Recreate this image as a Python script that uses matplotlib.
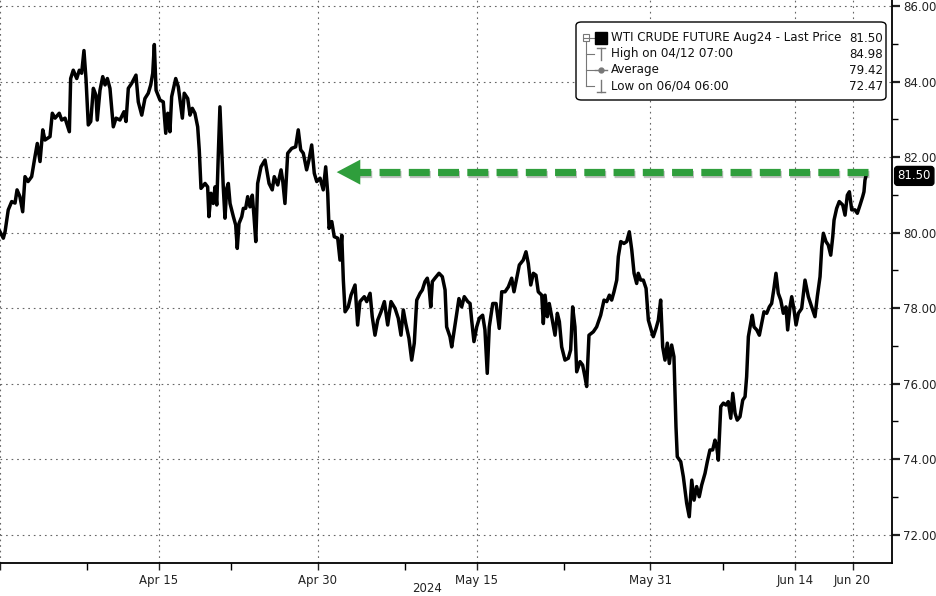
import numpy as np
import matplotlib.pyplot as plt
import matplotlib.patheffects as pe
from matplotlib.patches import FancyBboxPatch, Rectangle
from matplotlib.lines import Line2D

plt.rcParams['font.family'] = ['DejaVu Sans']

# time axis counted in trading days from this date (weekends removed)
start_date = '2024-03-29'

t_days = [
    0.00, 0.23, 0.35, 0.57, 0.81, 1.04, 1.18, 1.38, 1.57, 1.73,
    1.94, 2.19, 2.42, 2.58, 2.77, 2.96, 3.11, 3.46, 3.62, 3.81,
    4.10, 4.27, 4.50, 4.80, 4.89, 5.07, 5.31, 5.49, 5.65, 5.81,
    5.95, 6.11, 6.28, 6.46, 6.64, 6.73, 6.92, 7.11, 7.27, 7.43,
    7.61, 7.84, 8.03, 8.30, 8.58, 8.72, 8.88, 9.11, 9.41, 9.57,
    9.81, 10.03, 10.26, 10.43, 10.57, 10.68, 10.80, 11.07, 11.30, 11.47,
    11.61, 11.76, 11.88, 12.16, 12.34, 12.62, 12.75, 12.99, 13.15, 13.31,
    13.49, 13.68, 13.79, 13.91, 14.19, 14.37, 14.46, 14.60, 14.76, 14.88,
    15.00, 15.11, 15.22, 15.34, 15.45, 15.57, 15.69, 15.80, 15.92, 16.15,
    16.31, 16.42, 16.54, 16.73, 16.84, 17.00, 17.14, 17.30, 17.46, 17.58,
    17.70, 17.83, 18.06, 18.34, 18.46, 18.62, 18.84, 18.98, 19.22, 19.45,
    19.56, 19.72, 19.91, 20.19, 20.46, 20.64, 20.81, 20.99, 21.22, 21.38,
    21.57, 21.75, 21.92, 22.15, 22.37, 22.54, 22.68, 22.77, 22.96, 23.13,
    23.37, 23.53, 23.65, 23.76, 23.88, 24.10, 24.29, 24.57, 24.75, 24.91,
    25.21, 25.38, 25.61, 25.76, 25.95, 26.14, 26.37, 26.60, 26.83, 27.06,
    27.34, 27.56, 27.75, 27.91, 28.08, 28.30, 28.49, 28.67, 28.84, 29.07,
    29.23, 29.41, 29.57, 29.69, 29.81, 29.92, 30.10, 30.38, 30.61, 30.80,
    30.91, 31.14, 31.26, 31.44, 31.61, 31.76, 31.95, 32.13, 32.37, 32.53,
    32.64, 32.80, 32.99, 33.17, 33.40, 33.56, 33.72, 33.86, 34.10, 34.33,
    34.55, 34.72, 34.95, 35.18, 35.41, 35.57, 35.76, 35.94, 36.21, 36.40,
    36.56, 36.73, 36.91, 37.09, 37.25, 37.49, 37.60, 37.72, 37.88, 38.01,
    38.18, 38.41, 38.57, 38.71, 38.87, 39.10, 39.33, 39.49, 39.63, 39.79,
    39.91, 40.14, 40.32, 40.48, 40.60, 40.76, 41.06, 41.29, 41.57, 41.80,
    41.99, 42.17, 42.33, 42.49, 42.68, 42.79, 42.96, 43.18, 43.37, 43.55,
    43.72, 43.88, 44.06, 44.17, 44.34, 44.52, 44.71, 44.87, 45.10, 45.21,
    45.40, 45.56, 45.72, 45.86, 46.02, 46.18, 46.32, 46.48, 46.64, 46.78,
    46.87, 47.11, 47.29, 47.52, 47.70, 47.87, 48.03, 48.21, 48.39, 48.56,
    48.79, 48.95, 49.13, 49.32, 49.48, 49.60, 49.71, 49.88, 50.06, 50.24,
    50.40, 50.57, 50.71, 50.87, 51.02, 51.21, 51.40, 51.56, 51.67, 51.79,
    51.95, 52.06, 52.18, 52.37, 52.55, 52.71, 52.87, 53.06, 53.24, 53.40,
    53.56, 53.70, 53.86, 54.03, 54.21, 54.39, 54.51, 54.67, 54.79, 54.95,
    55.09, 55.25, 55.48, 55.71, 55.94, 56.17, 56.40, 56.56, 56.75, 56.87,
    56.98, 57.16, 57.32, 57.49, 57.63, 57.72, 57.90, 58.08, 58.32, 58.48,
    58.64, 58.78, 58.94, 59.17, 59.33, 59.52, 59.70, 59.79, 59.86, 59.93,
]

prices = [
    80.02, 79.85, 80.02, 80.60, 80.82, 80.78, 81.13, 80.95, 80.55, 81.48,
    81.35, 81.48, 82.01, 82.36, 81.88, 82.72, 82.45, 82.54, 83.16, 83.03,
    83.16, 82.98, 83.03, 82.67, 84.08, 84.30, 84.08, 84.30, 84.22, 84.82,
    84.08, 82.85, 82.94, 83.82, 83.64, 82.98, 83.77, 84.13, 83.91, 84.08,
    83.82, 82.80, 83.03, 82.98, 83.20, 82.94, 83.82, 83.95, 84.17, 83.46,
    83.11, 83.55, 83.69, 83.91, 84.22, 84.98, 83.77, 83.51, 83.46, 82.63,
    83.16, 82.67, 83.60, 84.08, 83.86, 83.03, 83.69, 83.55, 83.11, 83.29,
    83.16, 82.80, 82.19, 81.17, 81.30, 81.21, 80.42, 81.04, 80.77, 81.21,
    80.73, 82.10, 83.33, 82.19, 81.21, 80.38, 81.17, 81.30, 80.77, 80.42,
    80.20, 79.58, 80.24, 80.42, 80.64, 80.64, 80.95, 80.68, 80.99, 80.42,
    79.76, 81.30, 81.74, 81.92, 81.66, 81.30, 81.13, 81.48, 81.26, 81.66,
    81.39, 80.77, 82.10, 82.23, 82.27, 82.72, 82.19, 82.10, 81.66, 81.92,
    82.32, 81.57, 81.35, 81.44, 81.13, 81.74, 81.04, 80.11, 80.29, 79.89,
    79.85, 79.27, 79.93, 78.74, 77.90, 78.03, 78.34, 78.61, 77.55, 78.17,
    78.30, 78.17, 78.39, 77.77, 77.28, 77.68, 77.90, 78.17, 77.55, 78.17,
    77.99, 77.73, 77.28, 77.95, 77.59, 77.20, 76.62, 77.07, 78.21, 78.39,
    78.48, 78.70, 78.79, 78.56, 78.03, 78.70, 78.79, 78.92, 78.83, 78.48,
    77.50, 77.24, 76.97, 77.42, 77.86, 78.25, 78.03, 78.30, 78.17, 78.12,
    77.68, 77.11, 77.50, 77.73, 77.81, 77.42, 76.27, 77.50, 78.12, 78.12,
    77.46, 78.43, 78.43, 78.56, 78.79, 78.43, 78.79, 79.14, 79.27, 79.49,
    79.18, 78.61, 78.92, 78.87, 78.43, 78.34, 77.59, 78.34, 77.77, 78.12,
    77.77, 77.28, 77.86, 77.64, 76.97, 76.62, 76.67, 76.89, 78.03, 77.50,
    76.31, 76.58, 76.49, 76.18, 75.92, 77.28, 77.37, 77.50, 77.81, 78.21,
    78.17, 78.34, 78.21, 78.43, 78.74, 79.36, 79.76, 79.71, 79.76, 80.02,
    79.54, 78.92, 78.65, 78.92, 78.74, 78.74, 78.52, 77.68, 77.37, 77.24,
    77.46, 77.68, 78.21, 76.97, 76.62, 77.07, 76.53, 77.02, 76.71, 74.86,
    74.06, 73.93, 73.53, 72.83, 72.47, 73.44, 72.91, 73.27, 73.00, 73.31,
    73.62, 73.93, 74.24, 74.24, 74.50, 74.33, 73.97, 75.39, 75.48, 75.43,
    75.52, 75.08, 75.74, 75.21, 75.03, 75.12, 75.56, 75.65, 76.18, 77.24,
    77.59, 77.81, 77.50, 77.42, 77.28, 77.59, 77.90, 77.86, 78.03, 78.12,
    78.52, 78.92, 78.39, 78.21, 77.86, 78.03, 77.42, 78.03, 78.30, 77.95,
    77.55, 77.86, 77.99, 78.74, 78.30, 78.03, 77.77, 78.30, 78.83, 79.62,
    79.98, 79.76, 79.67, 79.40, 79.89, 80.33, 80.64, 80.82, 80.73, 80.46,
    80.99, 81.08, 80.60, 80.60, 80.51, 80.73, 80.95, 81.08, 81.39, 81.50,
]
assert len(t_days) == len(prices)

tick_dates = ['2024-03-29', '2024-04-15', '2024-04-30', '2024-05-15',
              '2024-05-31', '2024-06-14', '2024-06-20']
tick_labels = ['', 'Apr 15', 'Apr 30', 'May 15', 'May 31', 'Jun 14', 'Jun 20']
minor_dates = ['2024-04-08', '2024-04-22', '2024-05-08', '2024-05-23', '2024-06-07']
year_label = '2024'

legend_labels = ['WTI CRUDE FUTURE Aug24 - Last Price', 'High on 04/12 07:00',
                 'Average', 'Low on 06/04 06:00']
legend_values = [81.50, 84.98, 79.42, 72.47]
last_price = 81.50
arrow_level = 81.6

GREEN = '#2f9e3c'

def bday(d):
    return np.busday_count(start_date, d)

fig = plt.figure(figsize=(9.36, 5.96), dpi=100)
ax = fig.add_axes([0, 33 / 596, 892 / 936, 563 / 596])

ax.plot(t_days, prices, color='black', lw=2.5, solid_joinstyle='round')

ax.set_xlim(0, 61.73)
ax.set_ylim(71.245, 86.16)

ax.set_xticks([bday(d) for d in tick_dates])
ax.set_xticklabels(tick_labels)
ax.set_xticks([bday(d) for d in minor_dates], minor=True)
ax.yaxis.tick_right()
ax.set_yticks(np.arange(72, 87, 2))
ax.set_yticklabels([f'{v:.2f}' for v in np.arange(72, 87, 2)])
ax.set_yticks(np.arange(73, 86, 2), minor=True)

ax.grid(True, which='major', color='#666666', lw=0.8, ls=(0, (1.5, 3.5)))
for s in ['left', 'top']:
    ax.spines[s].set_visible(False)
for s in ['right', 'bottom']:
    ax.spines[s].set_linewidth(1.3)
ax.tick_params(axis='y', which='major', length=6, width=1.6, labelsize=8.5, pad=2, colors='#222222')
ax.tick_params(axis='y', which='minor', length=4, width=1.0)
ax.tick_params(axis='x', which='major', length=5, width=1.0, labelsize=8.5, pad=3, colors='#222222')
ax.tick_params(axis='x', which='minor', length=5, width=1.0)

fig.text(427 / 936, 1 - 588 / 596, year_label, ha='center', va='center', fontsize=8.5, color='#222222')

# green dashed arrow back to the Apr 30 level
shadow = [pe.SimpleLineShadow(offset=(1, -1.5), alpha=0.25), pe.Normal()]
ax.plot([60.05, 24.5], [arrow_level, arrow_level], color=GREEN, lw=5.2,
        dashes=(2.9, 1.15), path_effects=shadow)
ax.annotate('', xy=(23.3, arrow_level), xytext=(24.9, arrow_level),
            arrowprops=dict(arrowstyle='-|>,head_length=0.85,head_width=0.45',
                            mutation_scale=20, color=GREEN, lw=0,
                            shrinkA=0, shrinkB=0))

# last price tag on the axis
ax.annotate(f'{last_price:.2f}', xy=(1.0, last_price), xycoords=ax.get_yaxis_transform(),
            xytext=(4, 0), textcoords='offset points', ha='left', va='center',
            color='white', fontsize=8.5, annotation_clip=False,
            bbox=dict(boxstyle='round,pad=0.25', fc='black', ec='black'))

# legend box
def fx(px):
    return px / 936

def fy(py):
    return 1 - py / 596

tf = fig.transFigure
fig.add_artist(FancyBboxPatch((fx(576), fy(100)), 310 / 936, 78 / 596,
                              boxstyle='round,pad=0,rounding_size=0.006',
                              transform=tf, fc='white', ec='black', lw=1.0, zorder=4))
gray = '#777777'
# tree connector
fig.add_artist(Line2D([fx(586)] * 2, [fy(41), fy(86)], transform=tf, color=gray, lw=0.8, zorder=5))
for yy in [54, 70, 86]:
    fig.add_artist(Line2D([fx(586), fx(594)], [fy(yy)] * 2, transform=tf, color=gray, lw=0.8, zorder=5))
fig.add_artist(Rectangle((fx(583), fy(40.5)), 6 / 936, 6 / 596, transform=tf,
                         fc='white', ec=gray, lw=0.8, zorder=6))
fig.add_artist(Line2D([fx(584), fx(588)], [fy(37.5)] * 2, transform=tf, color=gray, lw=0.8, zorder=6))
fig.add_artist(Line2D([fx(589), fx(594)], [fy(37.5)] * 2, transform=tf, color=gray, lw=0.8, zorder=6))
fig.add_artist(Rectangle((fx(595), fy(44)), 12 / 936, 12 / 596, transform=tf,
                         fc='black', ec='black', zorder=6))
fig.add_artist(Line2D([fx(601)] * 2, [fy(48), fy(60)], transform=tf, color=gray, lw=1.0, zorder=6))
fig.add_artist(Line2D([fx(597), fx(605)], [fy(48)] * 2, transform=tf, color=gray, lw=1.0, zorder=6))
fig.add_artist(Line2D([fx(595), fx(607)], [fy(70)] * 2, transform=tf, color=gray, lw=1.0, zorder=6))
fig.add_artist(Line2D([fx(601)], [fy(70)], transform=tf, color=gray, marker='o', markersize=3.5,
                      zorder=6))
fig.add_artist(Line2D([fx(601)] * 2, [fy(80), fy(92)], transform=tf, color=gray, lw=1.0, zorder=6))
fig.add_artist(Line2D([fx(597), fx(605)], [fy(92)] * 2, transform=tf, color=gray, lw=1.0, zorder=6))

for i, (lab, val) in enumerate(zip(legend_labels, legend_values)):
    yy = fy(38 + 16 * i)
    fig.text(fx(611), yy, lab, ha='left', va='center', fontsize=8.6, color='#111111', zorder=7)
    fig.text(fx(883), yy, f'{val:.2f}', ha='right', va='center', fontsize=8.6, color='#111111', zorder=7)

fig.savefig('out.png', dpi=100)
